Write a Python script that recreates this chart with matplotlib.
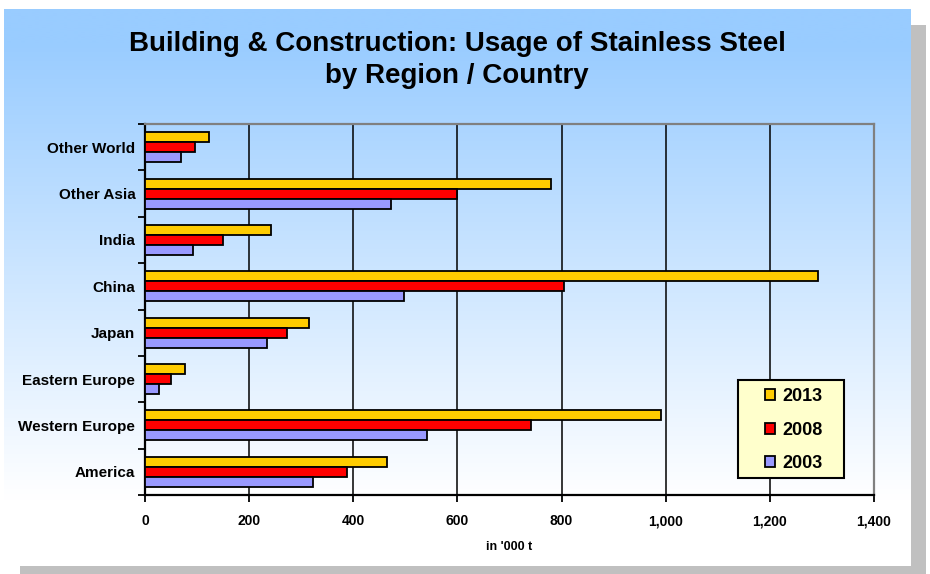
import numpy as np
import matplotlib.pyplot as plt
from matplotlib.patches import Rectangle

plt.rcParams['font.family'] = ['Liberation Sans', 'DejaVu Sans']
plt.rcParams['font.weight'] = 'bold'

# Stainless steel use in building & construction, in '000 t
regions = ['America', 'Western Europe', 'Eastern Europe', 'Japan',
           'China', 'India', 'Other Asia', 'Other World']
years = ['2013', '2008', '2003']
use_2013 = [464, 990, 77, 315, 1293, 242, 779, 123]
use_2008 = [387, 741, 50, 272, 805, 150, 599, 96]
use_2003 = [322, 541, 27, 234, 498, 92, 472, 69]
colors = ['#FFCC00', '#FF0000', '#9999FF']

W, H = 930, 574
fig = plt.figure(figsize=(W / 100, H / 100), dpi=100)

# background: shadow + gradient panel, in pixel units
bg = fig.add_axes([0, 0, 1, 1])
bg.axis('off')
bg.add_patch(Rectangle((20, 25), 906, 560, facecolor='#C0C0C0', edgecolor='none', zorder=0))
top = np.array([153, 204, 255]) / 255
bot = np.array([255, 255, 255]) / 255
t = np.linspace(0, 1, 256)[:, None]
s = np.clip((t - 0.06) / 0.82, 0, 1)
grad = (top * (1 - s) + bot * s)[:, None, :]
bg.imshow(grad, extent=(4, 910, 566, 9), aspect='auto', interpolation='bilinear', zorder=1)
bg.set_xlim(0, W)
bg.set_ylim(H, 0)

fig.text(457 / W, 1 - 60 / H,
         'Building & Construction: Usage of Stainless Steel\nby Region / Country',
         ha='center', va='center', fontsize=20, fontweight='bold', linespacing=1.3)

x0, x1, y0, y1 = 145, 874, 124, 495
ax = fig.add_axes([x0 / W, 1 - y1 / H, (x1 - x0) / W, (y1 - y0) / H])
ax.patch.set_alpha(0)

pos = np.arange(len(regions))
h = 0.215
for vals, off, c, lab in zip([use_2013, use_2008, use_2003], [h, 0, -h], colors, years):
    ax.barh(pos + off, vals, height=h, color=c, edgecolor='black',
            linewidth=1.3, label=lab, zorder=3)

ax.set_xlim(0, 1400)
ax.set_ylim(-0.5, len(regions) - 0.5)
ax.set_xticks(np.arange(0, 1401, 200))
ax.set_xticklabels([f'{v:,}' for v in range(0, 1401, 200)], fontsize=10, fontweight='bold')
ax.set_yticks(np.arange(-0.5, len(regions), 1))
ax.set_yticklabels([])
ax.set_yticks(pos, minor=True)
ax.set_yticklabels(regions, minor=True, fontsize=11, fontweight='bold')
ax.tick_params(axis='y', which='minor', length=0, pad=7)
ax.tick_params(axis='y', which='major', direction='out', length=5, width=1.3)
ax.tick_params(axis='x', direction='out', length=5, width=1.3, pad=9)
ax.grid(axis='x', color='black', linewidth=1.1)
ax.set_axisbelow(True)

for sp in ['top', 'right']:
    ax.spines[sp].set_color('#808080')
    ax.spines[sp].set_linewidth(1.6)
for sp in ['left', 'bottom']:
    ax.spines[sp].set_linewidth(1.6)

ax.set_xlabel("in '000 t", fontsize=9, fontweight='bold', labelpad=9)

# legend box
lx0 = (738 - x0) / (x1 - x0)
lx1 = (844 - x0) / (x1 - x0)
ly0 = (y1 - 478) / (y1 - y0)
ly1 = (y1 - 380) / (y1 - y0)
ax.add_patch(Rectangle((lx0, ly0), lx1 - lx0, ly1 - ly0, transform=ax.transAxes,
                       facecolor='#FFFFCC', edgecolor='black', linewidth=1.5,
                       zorder=4.5, clip_on=False))
leg = ax.legend(loc='center', bbox_to_anchor=((lx0 + lx1) / 2 + 0.004, (ly0 + ly1) / 2 - 0.003),
                frameon=False, prop={'size': 13, 'weight': 'bold'},
                handlelength=0.55, handleheight=0.55, handletextpad=0.4,
                labelspacing=0.92)
leg.set_zorder(5)

fig.savefig('out.png', dpi=100)
